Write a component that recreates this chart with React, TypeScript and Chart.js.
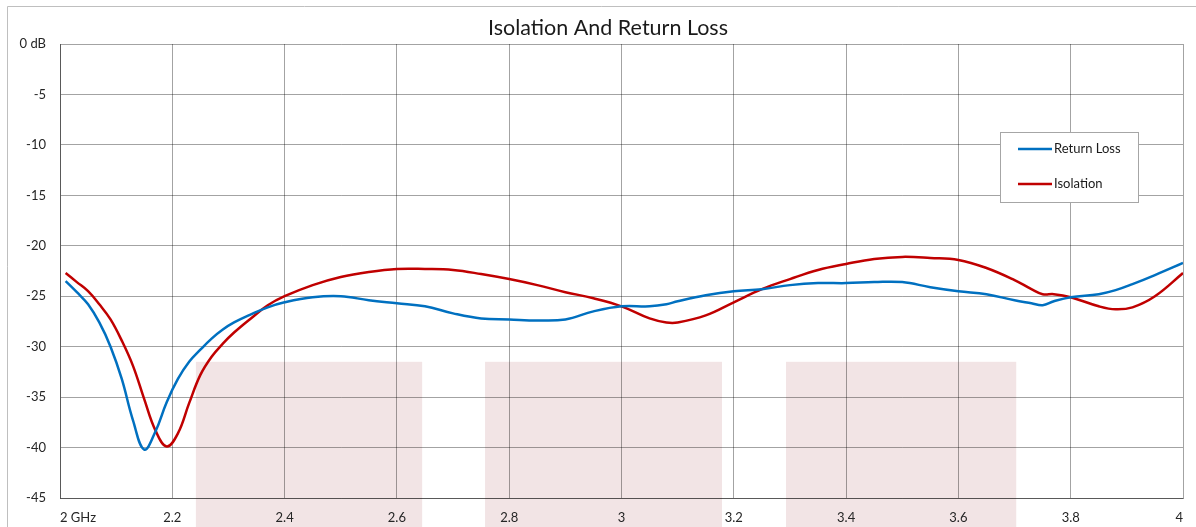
import React, { useEffect, useRef } from "react";
import { Chart, registerables } from "chart.js";

Chart.register(...registerables);

const freqs = [
  2.01, 2.03, 2.05, 2.07, 2.09, 2.11, 2.13, 2.15, 2.17, 2.19, 2.21, 2.23, 2.25, 2.27, 2.29, 2.31,
  2.34, 2.37, 2.4, 2.45, 2.5, 2.55, 2.6, 2.65, 2.7, 2.75, 2.8, 2.85, 2.9, 2.95,
  3.0, 3.05, 3.08, 3.1, 3.15, 3.2, 3.25, 3.3, 3.35, 3.4, 3.45, 3.5, 3.55, 3.6, 3.65, 3.7, 3.73, 3.75,
  3.77, 3.8, 3.85, 3.88, 3.91, 3.95, 4.0,
];

const returnLoss = [
  -23.5, -24.6, -25.8, -27.6, -30.0, -33.2, -37.3, -40.2, -38.4, -35.5, -33.2, -31.5, -30.3, -29.2,
  -28.3, -27.6, -26.8, -26.1, -25.6, -25.1, -25.0, -25.4, -25.7,
  -26.0, -26.7, -27.2, -27.3, -27.4, -27.3, -26.5, -26.0, -26.0, -25.8, -25.5, -24.9, -24.5, -24.3,
  -23.9, -23.7, -23.7, -23.6, -23.6, -24.1, -24.5, -24.8, -25.4, -25.7, -25.9, -25.5, -25.1, -24.8,
  -24.4, -23.8, -22.9, -21.7,
];

const isolation = [
  -22.7, -23.6, -24.5, -25.8, -27.3, -29.4, -31.9, -35.2, -38.3, -39.9, -38.6, -35.6, -32.8, -31.0,
  -29.7, -28.6, -27.2, -25.9, -25.0, -23.9, -23.1, -22.6, -22.3,
  -22.3, -22.4, -22.8, -23.3, -23.9, -24.6, -25.2, -26.0, -27.2, -27.6, -27.6, -26.9, -25.6, -24.3,
  -23.3, -22.4, -21.8, -21.3, -21.1, -21.2, -21.4, -22.2, -23.4, -24.3, -24.8, -24.8, -25.1, -26.0,
  -26.3, -26.1, -25.0, -22.7,
];

const seriesLabels = ["Return Loss", "Isolation"];
const seriesColors = ["#0070C0", "#C00000"];

const shadeStart = [2.242, 2.757, 3.293];
const shadeEnd = [2.645, 3.179, 3.703];
const shadeTop = -31.5;

const titleText = "Isolation And Return Loss";
const FONT = "Lato, 'Open Sans', sans-serif";

const xTickLabel = (v: number) => (Math.abs(v - 2) < 1e-6 ? "2 GHz" : String(Number(v.toFixed(1))));
const yTickLabel = (v: number) => (Math.abs(v) < 1e-6 ? "0 dB" : String(Math.round(v)));

const backgroundPlugin = {
  id: "bgShade",
  beforeDraw(chart: any) {
    const { ctx, scales } = chart;
    const x = scales.x;
    const y = scales.y;
    ctx.save();
    ctx.fillStyle = "#ffffff";
    ctx.fillRect(0, 0, chart.width, chart.height);
    ctx.strokeStyle = "#BFBFBF";
    ctx.lineWidth = 1;
    ctx.beginPath();
    ctx.moveTo(7.5, chart.height);
    ctx.lineTo(7.5, 6.5);
    ctx.lineTo(chart.width, 6.5);
    ctx.stroke();
    ctx.fillStyle = "rgb(242,228,229)";
    const yt = y.getPixelForValue(shadeTop);
    for (let i = 0; i < shadeStart.length; i++) {
      const x0 = x.getPixelForValue(shadeStart[i]);
      const x1 = x.getPixelForValue(shadeEnd[i]);
      ctx.fillRect(x0, yt, x1 - x0, chart.height - yt);
    }
    ctx.restore();
  },
  afterDraw(chart: any) {
    const { ctx } = chart;
    ctx.save();
    // title
    ctx.fillStyle = "#1a1a1a";
    ctx.font = `21.5px ${FONT}`;
    ctx.textAlign = "center";
    ctx.textBaseline = "middle";
    ctx.fillText(titleText, 608, 28);
    // legend
    const bx = 1000.5, by = 132.5, bw = 138, bh = 70;
    ctx.fillStyle = "#ffffff";
    ctx.fillRect(bx, by, bw, bh);
    ctx.strokeStyle = "#A6A6A6";
    ctx.lineWidth = 1;
    ctx.strokeRect(bx, by, bw, bh);
    const rows = [149, 184];
    ctx.font = `13px ${FONT}`;
    ctx.textAlign = "left";
    ctx.textBaseline = "middle";
    for (let i = 0; i < seriesLabels.length; i++) {
      ctx.strokeStyle = seriesColors[i];
      ctx.lineWidth = 2.5;
      ctx.beginPath();
      ctx.moveTo(1018, rows[i]);
      ctx.lineTo(1052, rows[i]);
      ctx.stroke();
      ctx.fillStyle = "#1a1a1a";
      ctx.fillText(seriesLabels[i], 1054, rows[i]);
    }
    ctx.restore();
  },
};

export default function App() {
  const canvasRef = useRef<HTMLCanvasElement | null>(null);

  useEffect(() => {
    document.body.style.margin = "0";
    const canvas = canvasRef.current;
    if (!canvas) return;
    const chart = new Chart(canvas, {
      type: "line",
      data: {
        datasets: [
          {
            label: seriesLabels[0],
            data: freqs.map((f, i) => ({ x: f, y: returnLoss[i] })),
            borderColor: seriesColors[0],
            borderWidth: 2.5,
            pointRadius: 0,
            tension: 0.4,
            fill: false,
          },
          {
            label: seriesLabels[1],
            data: freqs.map((f, i) => ({ x: f, y: isolation[i] })),
            borderColor: seriesColors[1],
            borderWidth: 2.5,
            pointRadius: 0,
            tension: 0.4,
            fill: false,
          },
        ],
      },
      options: {
        responsive: false,
        animation: false,
        layout: { padding: { left: 0, top: 44, right: 13, bottom: 0 } },
        plugins: {
          legend: { display: false },
          title: { display: false },
          tooltip: { enabled: false },
        },
        scales: {
          x: {
            type: "linear",
            min: 2,
            max: 4,
            afterFit(scale: any) {
              scale.height = 29;
            },
            ticks: {
              stepSize: 0.2,
              autoSkip: false,
              maxRotation: 0,
              align: "inner",
              padding: 12,
              color: "#262626",
              font: { family: FONT, size: 13 },
              callback: (v: any) => xTickLabel(Number(v)),
            },
            grid: { color: "rgba(0,0,0,0.36)", drawTicks: false, lineWidth: 1 },
            border: { display: true, color: "rgba(0,0,0,0.45)" },
          },
          y: {
            type: "linear",
            min: -45,
            max: 0,
            afterFit(scale: any) {
              scale.width = 60;
            },
            ticks: {
              stepSize: 5,
              padding: 14,
              color: "#262626",
              font: { family: FONT, size: 13 },
              callback: (v: any) => yTickLabel(Number(v)),
            },
            grid: { color: "rgba(0,0,0,0.36)", drawTicks: false, lineWidth: 1 },
            border: { display: true, color: "rgba(0,0,0,0.45)" },
          },
        },
      },
      plugins: [backgroundPlugin],
    });
    return () => chart.destroy();
  }, []);

  return (
    <div style={{ width: 1196, height: 527 }}>
      <canvas ref={canvasRef} width={1196} height={527} style={{ display: "block", width: 1196, height: 527 }} />
    </div>
  );
}
